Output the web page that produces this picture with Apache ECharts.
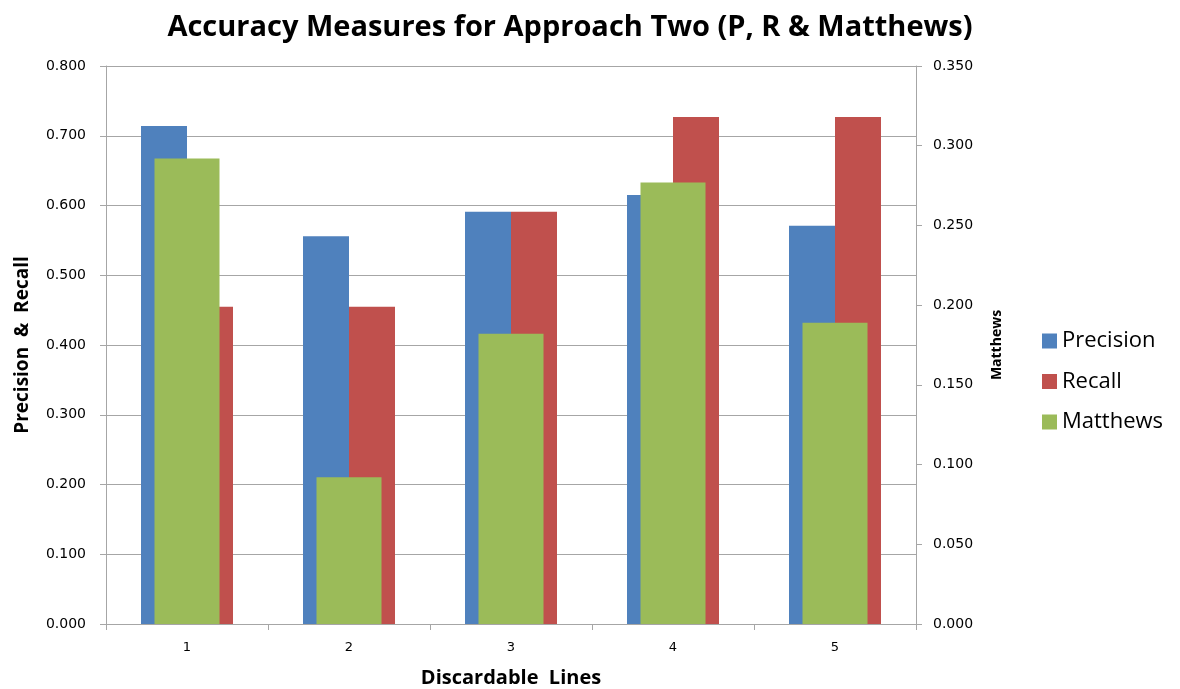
<!DOCTYPE html>
<html>
<head>
<meta charset="utf-8">
<script src="https://cdn.jsdelivr.net/npm/echarts@6/dist/echarts.min.js"></script>
<style>
  html, body { margin: 0; padding: 0; background: #fff; }
  #chart { width: 1180px; height: 689px; }
</style>
</head>
<body>
<div id="chart"></div>
<script>
// Discardable-line settings on the x axis
const categories = ['1', '2', '3', '4', '5'];
// Precision and recall (left axis)
const precision = [0.714, 0.556, 0.591, 0.615, 0.571];
const recall = [0.455, 0.455, 0.591, 0.727, 0.727];
// Matthews correlation coefficient (right axis)
const matthews = [0.292, 0.092, 0.182, 0.277, 0.189];

const axisFont = 'DejaVu Sans';
const gridColor = '#a6a6a6';

const chart = echarts.init(document.getElementById('chart'));
chart.setOption({
  animation: false,
  backgroundColor: '#ffffff',
  title: {
    text: 'Accuracy Measures for Approach Two (P, R & Matthews)',
    left: 565,
    textAlign: 'center',
    top: 8,
    textStyle: { fontFamily: 'Open Sans', fontWeight: 'bold', fontSize: 29, color: '#000' }
  },
  legend: {
    orient: 'vertical',
    left: 1037,
    top: 324,
    itemWidth: 15,
    itemHeight: 15,
    itemGap: 16.5,
    icon: 'rect',
    textStyle: { fontFamily: 'Open Sans', fontSize: 22, lineHeight: 24, color: '#000' },
    data: ['Precision', 'Recall', 'Matthews']
  },
  grid: { left: 106, right: 264, top: 66, bottom: 65, containLabel: false, outerBoundsMode: 'none' },
  xAxis: [
    {
      type: 'category',
      data: categories,
      name: 'Discardable  Lines',
      nameLocation: 'middle',
      nameGap: 44,
      nameTextStyle: { fontFamily: 'Open Sans', fontWeight: 'bold', fontSize: 20, color: '#000' },
      axisLine: { lineStyle: { color: gridColor } },
      axisTick: { show: true, length: 6, lineStyle: { color: gridColor } },
      axisLabel: { fontFamily: axisFont, fontSize: 13, color: '#000', margin: 17 }
    },
    {
      type: 'category',
      data: categories,
      show: false
    }
  ],
  yAxis: [
    {
      type: 'value',
      min: 0,
      max: 0.8,
      interval: 0.1,
      name: 'Precision  &  Recall',
      nameLocation: 'middle',
      nameRotate: 90,
      nameGap: 74,
      nameTextStyle: { fontFamily: 'Open Sans', fontWeight: 'bold', fontSize: 19, color: '#000' },
      axisLine: { show: true, lineStyle: { color: gridColor } },
      axisTick: { show: true, length: 6, lineStyle: { color: gridColor } },
      splitLine: { lineStyle: { color: gridColor } },
      axisLabel: {
        fontFamily: axisFont, fontSize: 14, color: '#000', margin: 20,
        formatter: v => v.toFixed(3)
      }
    },
    {
      type: 'value',
      min: 0,
      max: 0.35,
      interval: 0.05,
      position: 'right',
      name: 'Matthews',
      nameLocation: 'middle',
      nameRotate: 90,
      nameGap: 74,
      nameTextStyle: { fontFamily: 'Open Sans', fontWeight: 'bold', fontSize: 14, color: '#000' },
      axisLine: { show: true, lineStyle: { color: gridColor } },
      axisTick: { show: true, length: 6, lineStyle: { color: gridColor } },
      splitLine: { show: false },
      axisLabel: {
        fontFamily: axisFont, fontSize: 14, color: '#000', margin: 17,
        formatter: v => v.toFixed(3)
      }
    }
  ],
  series: [
    {
      name: 'Precision',
      type: 'bar',
      xAxisIndex: 0,
      yAxisIndex: 0,
      data: precision,
      barWidth: 46,
      barGap: '0%',
      itemStyle: { color: '#4F81BD' },
      z: 2
    },
    {
      name: 'Recall',
      type: 'bar',
      xAxisIndex: 0,
      yAxisIndex: 0,
      data: recall,
      barWidth: 46,
      barGap: '0%',
      itemStyle: { color: '#C0504D' },
      z: 2
    },
    {
      name: 'Matthews',
      type: 'bar',
      xAxisIndex: 1,
      yAxisIndex: 1,
      data: matthews,
      barWidth: 65,
      itemStyle: { color: '#9BBB59' },
      z: 3
    }
  ]
});
</script>
</body>
</html>
